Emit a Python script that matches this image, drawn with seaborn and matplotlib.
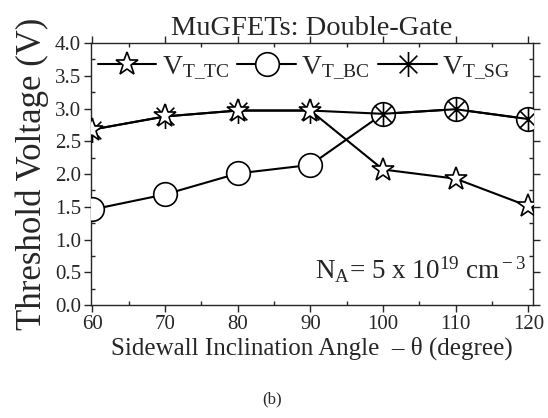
import numpy as np
import pandas as pd
import seaborn as sns
import matplotlib.pyplot as plt
from matplotlib.path import Path
from matplotlib.ticker import MultipleLocator

# values
angle = [60, 70, 80, 90, 100, 110, 120]
vt_tc = [2.68, 2.88, 2.97, 2.97, 2.07, 1.93, 1.51]
vt_bc = [1.46, 1.69, 2.01, 2.14, 2.92, 2.99, 2.84]
vt_sg = [2.68, 2.88, 2.97, 2.97, 2.92, 2.99, 2.84]

sns.set_style("ticks")
plt.rcParams['font.family'] = ['Liberation Serif', 'DejaVu Serif']
plt.rcParams['mathtext.fontset'] = 'custom'
plt.rcParams['mathtext.rm'] = 'Liberation Serif'
plt.rcParams['mathtext.it'] = 'Liberation Serif:italic'

# asterisk: vertical stroke plus two diagonals
c = np.cos(np.radians(45))
star_path = Path([(0, -1), (0, 1), (-c, -c), (c, c), (-c, c), (c, -c)],
                 [Path.MOVETO, Path.LINETO] * 3)

fig = plt.figure(figsize=(5.48, 4.18), dpi=100)
ax = fig.add_axes([0.166, 0.270, 0.806, 0.627])

df = pd.DataFrame({'angle': angle, 'tc': vt_tc, 'bc': vt_bc, 'sg': vt_sg})

common = dict(color='black', linewidth=1.5, markeredgecolor='black',
              markeredgewidth=1.2)
sns.lineplot(data=df, x='angle', y='bc', ax=ax, marker='o', markersize=17,
             markerfacecolor='white', label=r'V$_{\rm T\_BC}$', zorder=3, **common)
sns.lineplot(data=df, x='angle', y='sg', ax=ax, marker=star_path, markersize=18,
             markerfacecolor='none', label=r'V$_{\rm T\_SG}$', zorder=4, **common)
sns.lineplot(data=df, x='angle', y='tc', ax=ax, marker='*', markersize=17,
             markerfacecolor='white', label=r'V$_{\rm T\_TC}$', zorder=5, **common)

h, l = ax.get_legend_handles_labels()
order = [2, 0, 1]
ax.legend([h[i] for i in order], [l[i] for i in order], loc='upper left',
          bbox_to_anchor=(-0.01, 1.0), ncol=3, frameon=False, fontsize=20,
          handlelength=2.1, handletextpad=0.2, columnspacing=0.3,
          borderaxespad=0)

ax.set_xlim(59.8, 120.6)
ax.set_ylim(0, 4.0)
ax.xaxis.set_major_locator(MultipleLocator(10))
ax.xaxis.set_minor_locator(MultipleLocator(5))
ax.yaxis.set_major_locator(MultipleLocator(0.5))
ax.yaxis.set_minor_locator(MultipleLocator(0.25))
ax.yaxis.set_major_formatter(plt.FormatStrFormatter('%.1f'))
ax.tick_params(which='major', direction='out', length=5, width=1,
               labelsize=15, top=True, right=True, pad=2)
ax.tick_params(which='minor', direction='in', length=3, width=1,
               top=True, right=True)
for s in ax.spines.values():
    s.set_linewidth(1.0)

ax.set_xlabel('Sidewall Inclination Angle  \u2013 \u03b8 (degree)', fontsize=18, labelpad=2)
ax.set_ylabel('Threshold Voltage (V)', fontsize=25, labelpad=4)
ax.set_title('MuGFETs: Double-Gate', fontsize=20.5, pad=6)

ax.text(0.985, 0.10, r'N$_{\rm A}$= 5 x 10$^{\rm 19}$ cm$^{\rm -3}$',
        transform=ax.transAxes, ha='right', va='baseline', fontsize=19.5)

fig.text(0.497, 0.035, '(b)', ha='center', va='baseline', fontsize=12)

fig.savefig('out.png', dpi=100)
